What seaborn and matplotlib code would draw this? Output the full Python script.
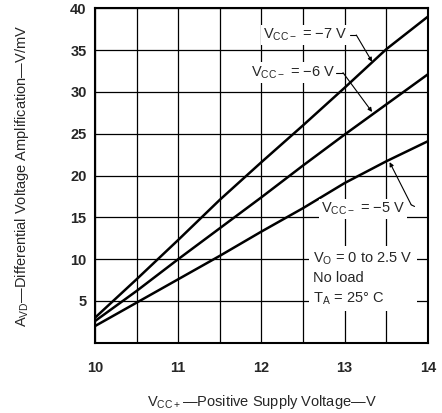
import seaborn as sns
import matplotlib.pyplot as plt
import pandas as pd

# data
vcc_pos = [10.0, 10.5, 11.0, 11.5, 12.0, 12.5, 13.0, 13.5, 14.0]
avd_m7 = [3.0, 7.6, 12.3, 17.1, 21.6, 26.0, 30.5, 35.1, 39.0]
avd_m6 = [2.6, 6.2, 10.0, 13.7, 17.4, 21.2, 24.9, 28.5, 32.1]
avd_m5 = [2.0, 4.8, 7.6, 10.4, 13.3, 16.1, 19.1, 21.7, 24.1]
curve_names = ["-7 V", "-6 V", "-5 V"]

df = pd.concat([
    pd.DataFrame({"vcc": vcc_pos, "avd": vals, "vneg": name})
    for name, vals in zip(curve_names, [avd_m7, avd_m6, avd_m5])
])

sns.set_style("white")
plt.rcParams['font.family'] = ['Liberation Sans', 'DejaVu Sans']
plt.rcParams['mathtext.fontset'] = 'custom'
plt.rcParams['mathtext.rm'] = 'Liberation Sans'

fig = plt.figure(figsize=(4.42, 4.13), dpi=100)
ax = fig.add_axes([0.215, 0.17, 0.753, 0.81])

sns.lineplot(data=df, x="vcc", y="avd", hue="vneg", palette=["black"] * 3,
             linewidth=1.8, legend=False, ax=ax, zorder=3)

ax.set_xlim(10, 14)
ax.set_ylim(0, 40)
ax.set_xticks([10, 10.5, 11, 11.5, 12, 12.5, 13, 13.5, 14])
ax.set_xticklabels(["10", "", "11", "", "12", "", "13", "", "14"])
ax.set_yticks([0, 5, 10, 15, 20, 25, 30, 35, 40])
ax.set_yticklabels(["", "5", "10", "15", "20", "25", "30", "35", "40"])
ax.grid(True, color="black", linewidth=0.9)
ax.tick_params(length=0, labelsize=10.5, pad=6)
ax.tick_params(axis="x", pad=13)
for lab in ax.get_xticklabels() + ax.get_yticklabels():
    lab.set_fontweight("bold")
for sp in ax.spines.values():
    sp.set_color("black")
    sp.set_linewidth(1.5)

ax.set_xlabel(r"V$_\mathregular{CC+}$—Positive Supply Voltage—V", fontsize=10.5, labelpad=13)
ax.set_ylabel(r"A$_\mathregular{VD}$—Differential Voltage Amplification—V/mV", fontsize=10.5, labelpad=28)

box = dict(facecolor="white", edgecolor="none", pad=1.5)
ann = [
    (r"V$_\mathregular{CC-}$ = −7 V", (12.52, 36.8)),
    (r"V$_\mathregular{CC-}$ = −6 V", (12.38, 32.3)),
    (r"V$_\mathregular{CC-}$ = −5 V", (13.22, 16.0)),
]
for txt, pos in ann:
    ax.text(pos[0], pos[1], txt, ha="center", va="center", fontsize=10.5,
            bbox=box, zorder=4)
# leader lines: short horizontal stub, then arrow to the curve
leaders = [((13.06, 36.8), (13.14, 36.8), (13.33, 33.6)),
           ((12.90, 32.3), (12.98, 32.3), (13.33, 27.6)),
           ((13.84, 16.3), (13.80, 16.5), (13.54, 21.6))]
for a, b, tip in leaders:
    ax.plot([a[0], b[0]], [a[1], b[1]], color="black", lw=0.8, zorder=5)
    ax.annotate("", xy=tip, xytext=b, zorder=5,
                arrowprops=dict(arrowstyle="-|>", color="black", lw=0.8,
                                mutation_scale=6, shrinkA=0, shrinkB=0))

ax.text(12.62, 7.7, r"V$_\mathregular{O}$ = 0 to 2.5 V" + "\nNo load\n" + r"T$_\mathregular{A}$ = 25° C",
        ha="left", va="center", fontsize=10.5, linespacing=1.4,
        bbox=dict(facecolor="white", edgecolor="none", pad=3), zorder=4)

plt.savefig("out.png", dpi=100)
